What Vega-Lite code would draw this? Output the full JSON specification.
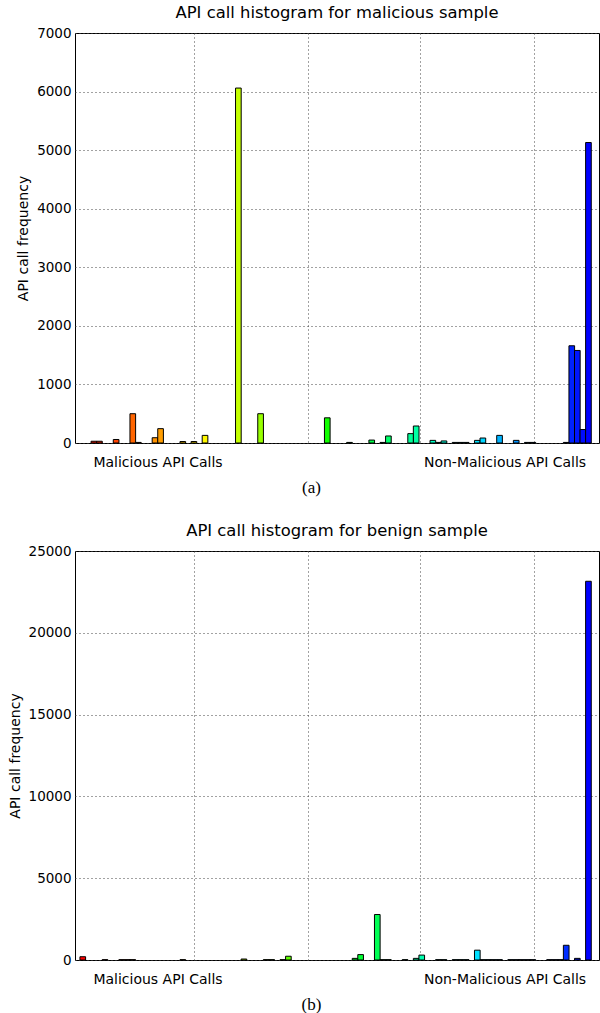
{
  "$schema": "https://vega.github.io/schema/vega-lite/v6.json",
  "padding": {"top": 4, "left": 7, "right": 0, "bottom": 0},
  "background": "white",
  "config": {
    "view": {"stroke": "black", "strokeWidth": 1},
    "font": "DejaVu Sans",
    "axis": {"labelFont": "DejaVu Sans", "labelColor": "black", "labelFontSize": 13.5, "titleFont": "DejaVu Sans", "titleColor": "black", "titleFontWeight": "normal", "titleFontSize": 14, "domain": false, "ticks": false, "gridColor": "#444", "gridDash": [1, 3], "gridWidth": 1},
    "title": {"font": "DejaVu Sans", "fontSize": 16.4, "fontWeight": "normal", "color": "black", "offset": 5}
  },
  "spacing": 108,
  "bounds": "flush",
  "vconcat": [
    {
      "title": "API call histogram for malicious sample",
      "width": 524,
      "height": 410,
      "data": {"values": [
        {"idx": 2, "value": 30}, {"idx": 3, "value": 30}, {"idx": 6, "value": 60}, {"idx": 9, "value": 500}, {"idx": 10, "value": 10},
        {"idx": 13, "value": 90}, {"idx": 14, "value": 245}, {"idx": 18, "value": 25}, {"idx": 20, "value": 25}, {"idx": 22, "value": 130},
        {"idx": 28, "value": 6060}, {"idx": 32, "value": 500}, {"idx": 44, "value": 430}, {"idx": 48, "value": 10}, {"idx": 52, "value": 50},
        {"idx": 54, "value": 10}, {"idx": 55, "value": 120}, {"idx": 59, "value": 160}, {"idx": 60, "value": 290}, {"idx": 63, "value": 45},
        {"idx": 64, "value": 10}, {"idx": 65, "value": 35}, {"idx": 67, "value": 10}, {"idx": 68, "value": 10}, {"idx": 69, "value": 10},
        {"idx": 71, "value": 45}, {"idx": 72, "value": 85}, {"idx": 75, "value": 130}, {"idx": 78, "value": 45}, {"idx": 80, "value": 10},
        {"idx": 81, "value": 10}, {"idx": 87, "value": 10}, {"idx": 88, "value": 1660}, {"idx": 89, "value": 1580}, {"idx": 90, "value": 230},
        {"idx": 91, "value": 5130}
      ]},
      "mark": {"type": "bar", "width": 5.66, "stroke": "black", "strokeWidth": 1},
      "encoding": {
        "x": {"field": "idx", "type": "quantitative", "scale": {"domain": [-0.5, 92.0], "nice": false, "zero": false},
          "axis": {"values": [13.45, 20, 40.5, 60.75, 75.9, 81.2], "grid": true, "labelFlush": false, "labelOverlap": false, "labelPadding": 12, "labelFontSize": 14,
            "labelExpr": "datum.value < 15 ? 'Malicious API Calls' : (datum.value > 75.5 && datum.value < 77) ? 'Non-Malicious API Calls' : ''",
            "gridOpacity": {"condition": {"test": "datum.value < 15 || (datum.value > 75.5 && datum.value < 77)", "value": 0}, "value": 1},
            "title": "(a)", "titleFont": "Liberation Serif", "titleFontSize": 17, "titlePadding": 10, "titleX": 236}},
        "y": {"field": "value", "type": "quantitative", "scale": {"domain": [0, 7000], "nice": false},
          "axis": {"values": [0, 1000, 2000, 3000, 4000, 5000, 6000, 7000], "format": "d", "grid": true, "labelPadding": 4, "title": "API call frequency", "titlePadding": 6}},
        "color": {"field": "idx", "type": "quantitative", "legend": null,
          "scale": {"domain": [0, 22.75, 45.5, 68.25, 91], "range": ["#ff0000", "#ffff00", "#00ff00", "#00ffff", "#0000ff"], "interpolate": "rgb"}}
      }
    },
    {
      "title": "API call histogram for benign sample",
      "width": 524,
      "height": 409,
      "data": {"values": [
        {"idx": 0, "value": 200}, {"idx": 4, "value": 20}, {"idx": 7, "value": 20}, {"idx": 8, "value": 20}, {"idx": 9, "value": 20},
        {"idx": 18, "value": 20}, {"idx": 29, "value": 60}, {"idx": 33, "value": 20}, {"idx": 34, "value": 20}, {"idx": 36, "value": 20},
        {"idx": 37, "value": 230}, {"idx": 49, "value": 100}, {"idx": 50, "value": 330}, {"idx": 53, "value": 2780}, {"idx": 54, "value": 20},
        {"idx": 55, "value": 20}, {"idx": 58, "value": 20}, {"idx": 60, "value": 100}, {"idx": 61, "value": 300}, {"idx": 64, "value": 20},
        {"idx": 65, "value": 20}, {"idx": 67, "value": 20}, {"idx": 68, "value": 20}, {"idx": 69, "value": 20}, {"idx": 71, "value": 600},
        {"idx": 72, "value": 20}, {"idx": 73, "value": 20}, {"idx": 74, "value": 20}, {"idx": 75, "value": 20}, {"idx": 77, "value": 20},
        {"idx": 78, "value": 20}, {"idx": 79, "value": 20}, {"idx": 80, "value": 20}, {"idx": 81, "value": 20}, {"idx": 84, "value": 20},
        {"idx": 85, "value": 20}, {"idx": 86, "value": 20}, {"idx": 87, "value": 900}, {"idx": 89, "value": 100}, {"idx": 91, "value": 23150}
      ]},
      "mark": {"type": "bar", "width": 5.66, "stroke": "black", "strokeWidth": 1},
      "encoding": {
        "x": {"field": "idx", "type": "quantitative", "scale": {"domain": [-0.5, 92.0], "nice": false, "zero": false},
          "axis": {"values": [13.45, 20, 40.5, 60.75, 75.9, 81.2], "grid": true, "labelFlush": false, "labelOverlap": false, "labelPadding": 12, "labelFontSize": 14,
            "labelExpr": "datum.value < 15 ? 'Malicious API Calls' : (datum.value > 75.5 && datum.value < 77) ? 'Non-Malicious API Calls' : ''",
            "gridOpacity": {"condition": {"test": "datum.value < 15 || (datum.value > 75.5 && datum.value < 77)", "value": 0}, "value": 1},
            "title": "(b)", "titleFont": "Liberation Serif", "titleFontSize": 17, "titlePadding": 10, "titleX": 236}},
        "y": {"field": "value", "type": "quantitative", "scale": {"domain": [0, 25000], "nice": false},
          "axis": {"values": [0, 5000, 10000, 15000, 20000, 25000], "format": "d", "grid": true, "labelPadding": 4, "title": "API call frequency", "titlePadding": 6}},
        "color": {"field": "idx", "type": "quantitative", "legend": null,
          "scale": {"domain": [0, 22.75, 45.5, 68.25, 91], "range": ["#ff0000", "#ffff00", "#00ff00", "#00ffff", "#0000ff"], "interpolate": "rgb"}}
      }
    }
  ]
}
